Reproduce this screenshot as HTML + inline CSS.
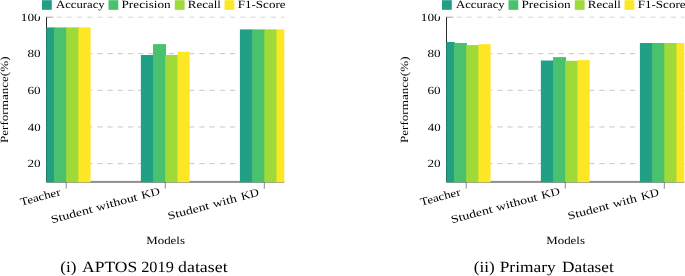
<!DOCTYPE html>
<html><head><meta charset="utf-8"><style>
html,body{margin:0;padding:0;background:#fff;}
body{width:685px;height:276px;overflow:hidden;}
svg{display:block;will-change:transform;}
text{font-family:"Liberation Serif",serif;fill:#000;text-rendering:geometricPrecision;}
</style></head><body>
<svg width="685" height="276" viewBox="0 0 685 276">
<rect width="685" height="276" fill="#fff"/>
<g transform="translate(0,0)">
<clipPath id="clip0"><rect x="46.3" y="0" width="238.0" height="190"/></clipPath>
<line x1="46.3" y1="17.00" x2="284.3" y2="17.00" stroke="#c8c8c8" stroke-width="1" stroke-dasharray="5.3 4.9"/>
<line x1="46.3" y1="53.65" x2="284.3" y2="53.65" stroke="#c8c8c8" stroke-width="1" stroke-dasharray="5.3 4.9"/>
<line x1="46.3" y1="90.30" x2="284.3" y2="90.30" stroke="#c8c8c8" stroke-width="1" stroke-dasharray="5.3 4.9"/>
<line x1="46.3" y1="126.95" x2="284.3" y2="126.95" stroke="#c8c8c8" stroke-width="1" stroke-dasharray="5.3 4.9"/>
<line x1="46.3" y1="163.60" x2="284.3" y2="163.60" stroke="#c8c8c8" stroke-width="1" stroke-dasharray="5.3 4.9"/>
<rect x="46.3" y="180.9" width="238.0" height="2" fill="#8e8e8e"/>
<line x1="46.5" y1="16.80" x2="46.5" y2="181.93" stroke="#2a2a2a" stroke-width="1"/>
<line x1="46.3" y1="17.00" x2="53.5" y2="17.00" stroke="#999" stroke-width="1"/>
<line x1="46.3" y1="53.65" x2="53.5" y2="53.65" stroke="#999" stroke-width="1"/>
<line x1="46.3" y1="90.30" x2="53.5" y2="90.30" stroke="#999" stroke-width="1"/>
<line x1="46.3" y1="126.95" x2="53.5" y2="126.95" stroke="#999" stroke-width="1"/>
<line x1="46.3" y1="163.60" x2="53.5" y2="163.60" stroke="#999" stroke-width="1"/>
<g clip-path="url(#clip0)">
<rect x="41.80" y="27.40" width="13.00" height="154.90" fill="#21a086"/>
<rect x="54.00" y="27.40" width="13.00" height="154.90" fill="#4ac16d"/>
<rect x="66.20" y="27.40" width="13.00" height="154.90" fill="#a0da39"/>
<rect x="78.40" y="27.40" width="12.20" height="154.90" fill="#fde725"/>
<rect x="140.85" y="55.00" width="13.00" height="127.30" fill="#21a086"/>
<rect x="153.05" y="44.10" width="13.00" height="138.20" fill="#4ac16d"/>
<rect x="165.25" y="55.00" width="13.00" height="127.30" fill="#a0da39"/>
<rect x="177.45" y="51.80" width="12.20" height="130.50" fill="#fde725"/>
<rect x="239.90" y="29.40" width="13.00" height="152.90" fill="#21a086"/>
<rect x="252.10" y="29.40" width="13.00" height="152.90" fill="#4ac16d"/>
<rect x="264.30" y="29.40" width="13.00" height="152.90" fill="#a0da39"/>
<rect x="276.50" y="29.40" width="12.20" height="152.90" fill="#fde725"/>
</g>
<line x1="66.2" y1="182.2" x2="66.2" y2="188.7" stroke="#5a5a5a" stroke-width="0.7"/>
<line x1="165.25" y1="182.2" x2="165.25" y2="188.7" stroke="#5a5a5a" stroke-width="0.7"/>
<line x1="264.3" y1="182.2" x2="264.3" y2="188.7" stroke="#5a5a5a" stroke-width="0.7"/>
<text x="20.80" y="20.80" font-size="11" textLength="19.80" lengthAdjust="spacingAndGlyphs">100</text>
<text x="27.51" y="57.45" font-size="11" textLength="13.08" lengthAdjust="spacingAndGlyphs">80</text>
<text x="27.44" y="94.10" font-size="11" textLength="13.15" lengthAdjust="spacingAndGlyphs">60</text>
<text x="27.74" y="130.75" font-size="11" textLength="12.84" lengthAdjust="spacingAndGlyphs">40</text>
<text x="27.44" y="167.40" font-size="11" textLength="13.15" lengthAdjust="spacingAndGlyphs">20</text>
<rect x="37.2" y="-2" width="256" height="18.5" fill="#fff"/>
<rect x="42.0" y="0.2" width="9.8" height="9.6" fill="#21a086"/>
<text x="55.97" y="7.6" font-size="11" textLength="48.67" lengthAdjust="spacingAndGlyphs">Accuracy</text>
<rect x="108.5" y="0.2" width="9.8" height="9.6" fill="#4ac16d"/>
<text x="121.54" y="7.6" font-size="11" textLength="49.15" lengthAdjust="spacingAndGlyphs">Precision</text>
<rect x="174.8" y="0.2" width="9.8" height="9.6" fill="#a0da39"/>
<text x="187.84" y="7.6" font-size="11" textLength="33.00" lengthAdjust="spacingAndGlyphs">Recall</text>
<rect x="224.5" y="0.2" width="9.8" height="9.6" fill="#fde725"/>
<text x="237.74" y="7.6" font-size="11" textLength="47.80" lengthAdjust="spacingAndGlyphs">F1-Score</text>
<g transform="translate(59.1,187.3) rotate(-15)">
<text x="-41.30" y="8" font-size="11" textLength="41.30" lengthAdjust="spacingAndGlyphs">Teacher</text>
</g>
<g transform="translate(158.0,186.6) rotate(-15)">
<text x="-111.85" y="8" font-size="11" textLength="42.73" lengthAdjust="spacingAndGlyphs">Student</text>
<text x="-65.29" y="8" font-size="11" textLength="42.56" lengthAdjust="spacingAndGlyphs">without</text>
<text x="-18.36" y="8" font-size="11" textLength="18.84" lengthAdjust="spacingAndGlyphs">KD</text>
</g>
<g transform="translate(257.6,187.7) rotate(-15)">
<text x="-94.00" y="8" font-size="11" textLength="42.38" lengthAdjust="spacingAndGlyphs">Student</text>
<text x="-47.68" y="8" font-size="11" textLength="24.50" lengthAdjust="spacingAndGlyphs">with</text>
<text x="-18.41" y="8" font-size="11" textLength="18.36" lengthAdjust="spacingAndGlyphs">KD</text>
</g>
<text transform="translate(7.5,99.75) rotate(-90)" x="0" y="0" text-anchor="middle" font-size="11" textLength="86.5" lengthAdjust="spacingAndGlyphs">Performance(%)</text>
<text x="146.25" y="243.6" font-size="11" textLength="38.64" lengthAdjust="spacingAndGlyphs">Models</text>
<text x="60.27" y="271.8" font-size="15.5" textLength="16.18" lengthAdjust="spacingAndGlyphs">(i)</text>
<text x="82.12" y="271.8" font-size="15.5" textLength="55.16" lengthAdjust="spacingAndGlyphs">APTOS</text>
<text x="141.21" y="271.8" font-size="15.5" textLength="32.65" lengthAdjust="spacingAndGlyphs">2019</text>
<text x="178.08" y="271.8" font-size="15.5" textLength="49.54" lengthAdjust="spacingAndGlyphs">dataset</text>
</g>
<g transform="translate(400,0)">
<clipPath id="clip400"><rect x="46.3" y="0" width="238.0" height="190"/></clipPath>
<line x1="46.3" y1="17.00" x2="284.3" y2="17.00" stroke="#c8c8c8" stroke-width="1" stroke-dasharray="5.3 4.9"/>
<line x1="46.3" y1="53.65" x2="284.3" y2="53.65" stroke="#c8c8c8" stroke-width="1" stroke-dasharray="5.3 4.9"/>
<line x1="46.3" y1="90.30" x2="284.3" y2="90.30" stroke="#c8c8c8" stroke-width="1" stroke-dasharray="5.3 4.9"/>
<line x1="46.3" y1="126.95" x2="284.3" y2="126.95" stroke="#c8c8c8" stroke-width="1" stroke-dasharray="5.3 4.9"/>
<line x1="46.3" y1="163.60" x2="284.3" y2="163.60" stroke="#c8c8c8" stroke-width="1" stroke-dasharray="5.3 4.9"/>
<rect x="46.3" y="180.9" width="238.0" height="2" fill="#8e8e8e"/>
<line x1="46.5" y1="16.80" x2="46.5" y2="181.93" stroke="#2a2a2a" stroke-width="1"/>
<line x1="46.3" y1="17.00" x2="53.5" y2="17.00" stroke="#999" stroke-width="1"/>
<line x1="46.3" y1="53.65" x2="53.5" y2="53.65" stroke="#999" stroke-width="1"/>
<line x1="46.3" y1="90.30" x2="53.5" y2="90.30" stroke="#999" stroke-width="1"/>
<line x1="46.3" y1="126.95" x2="53.5" y2="126.95" stroke="#999" stroke-width="1"/>
<line x1="46.3" y1="163.60" x2="53.5" y2="163.60" stroke="#999" stroke-width="1"/>
<g clip-path="url(#clip400)">
<rect x="41.80" y="42.00" width="13.00" height="140.30" fill="#21a086"/>
<rect x="54.00" y="43.00" width="13.00" height="139.30" fill="#4ac16d"/>
<rect x="66.20" y="45.10" width="13.00" height="137.20" fill="#a0da39"/>
<rect x="78.40" y="44.20" width="12.20" height="138.10" fill="#fde725"/>
<rect x="140.85" y="60.50" width="13.00" height="121.80" fill="#21a086"/>
<rect x="153.05" y="57.10" width="13.00" height="125.20" fill="#4ac16d"/>
<rect x="165.25" y="60.80" width="13.00" height="121.50" fill="#a0da39"/>
<rect x="177.45" y="60.10" width="12.20" height="122.20" fill="#fde725"/>
<rect x="239.90" y="43.00" width="13.00" height="139.30" fill="#21a086"/>
<rect x="252.10" y="43.00" width="13.00" height="139.30" fill="#4ac16d"/>
<rect x="264.30" y="43.00" width="13.00" height="139.30" fill="#a0da39"/>
<rect x="276.50" y="43.00" width="12.20" height="139.30" fill="#fde725"/>
</g>
<line x1="66.2" y1="182.2" x2="66.2" y2="188.7" stroke="#5a5a5a" stroke-width="0.7"/>
<line x1="165.25" y1="182.2" x2="165.25" y2="188.7" stroke="#5a5a5a" stroke-width="0.7"/>
<line x1="264.3" y1="182.2" x2="264.3" y2="188.7" stroke="#5a5a5a" stroke-width="0.7"/>
<text x="20.80" y="20.80" font-size="11" textLength="19.80" lengthAdjust="spacingAndGlyphs">100</text>
<text x="27.51" y="57.45" font-size="11" textLength="13.08" lengthAdjust="spacingAndGlyphs">80</text>
<text x="27.44" y="94.10" font-size="11" textLength="13.15" lengthAdjust="spacingAndGlyphs">60</text>
<text x="27.74" y="130.75" font-size="11" textLength="12.84" lengthAdjust="spacingAndGlyphs">40</text>
<text x="27.44" y="167.40" font-size="11" textLength="13.15" lengthAdjust="spacingAndGlyphs">20</text>
<rect x="37.2" y="-2" width="256" height="18.5" fill="#fff"/>
<rect x="42.0" y="0.2" width="9.8" height="9.6" fill="#21a086"/>
<text x="55.97" y="7.6" font-size="11" textLength="48.67" lengthAdjust="spacingAndGlyphs">Accuracy</text>
<rect x="108.5" y="0.2" width="9.8" height="9.6" fill="#4ac16d"/>
<text x="121.54" y="7.6" font-size="11" textLength="49.15" lengthAdjust="spacingAndGlyphs">Precision</text>
<rect x="174.8" y="0.2" width="9.8" height="9.6" fill="#a0da39"/>
<text x="187.84" y="7.6" font-size="11" textLength="33.00" lengthAdjust="spacingAndGlyphs">Recall</text>
<rect x="224.5" y="0.2" width="9.8" height="9.6" fill="#fde725"/>
<text x="237.74" y="7.6" font-size="11" textLength="47.80" lengthAdjust="spacingAndGlyphs">F1-Score</text>
<g transform="translate(59.1,187.3) rotate(-15)">
<text x="-41.30" y="8" font-size="11" textLength="41.30" lengthAdjust="spacingAndGlyphs">Teacher</text>
</g>
<g transform="translate(158.0,186.6) rotate(-15)">
<text x="-111.85" y="8" font-size="11" textLength="42.73" lengthAdjust="spacingAndGlyphs">Student</text>
<text x="-65.29" y="8" font-size="11" textLength="42.56" lengthAdjust="spacingAndGlyphs">without</text>
<text x="-18.36" y="8" font-size="11" textLength="18.84" lengthAdjust="spacingAndGlyphs">KD</text>
</g>
<g transform="translate(257.6,187.7) rotate(-15)">
<text x="-94.00" y="8" font-size="11" textLength="42.38" lengthAdjust="spacingAndGlyphs">Student</text>
<text x="-47.68" y="8" font-size="11" textLength="24.50" lengthAdjust="spacingAndGlyphs">with</text>
<text x="-18.41" y="8" font-size="11" textLength="18.36" lengthAdjust="spacingAndGlyphs">KD</text>
</g>
<text transform="translate(7.5,99.75) rotate(-90)" x="0" y="0" text-anchor="middle" font-size="11" textLength="86.5" lengthAdjust="spacingAndGlyphs">Performance(%)</text>
<text x="146.25" y="243.6" font-size="11" textLength="38.64" lengthAdjust="spacingAndGlyphs">Models</text>
<text x="73.87" y="271.8" font-size="15.5" textLength="20.88" lengthAdjust="spacingAndGlyphs">(ii)</text>
<text x="99.72" y="271.8" font-size="15.5" textLength="55.91" lengthAdjust="spacingAndGlyphs">Primary</text>
<text x="162.03" y="271.8" font-size="15.5" textLength="51.78" lengthAdjust="spacingAndGlyphs">Dataset</text>
</g>
</svg>
</body></html>
